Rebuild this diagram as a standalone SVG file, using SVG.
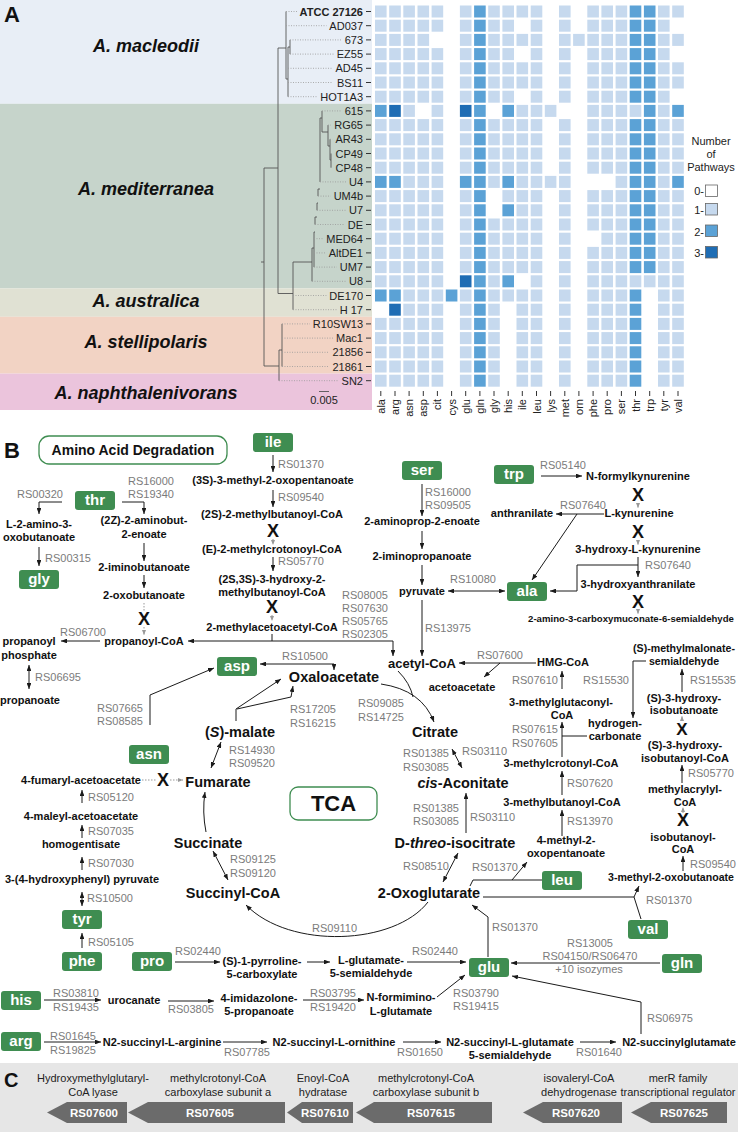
<svg xmlns="http://www.w3.org/2000/svg" width="738" height="1132" viewBox="0 0 738 1132">
<style>
text{font-family:"Liberation Sans",Arial,sans-serif}
.sp{font-size:18px;font-weight:bold;font-style:italic;text-anchor:middle;fill:#111}
.lb{font-size:11px;text-anchor:end;fill:#222}
.c1{fill:#c6d9ee}.c2{fill:#5ba2d6}.c3{fill:#1f6db4}
.tk{stroke:#333;stroke-width:1;fill:none}
.tr{stroke:#555;stroke-width:0.9;fill:none}
.dtl{stroke:#9a9a9a;stroke-width:0.8;stroke-dasharray:1 1.5;fill:none}
.pl{font-size:22px;font-weight:bold;fill:#111}
.cp{font-size:11px;font-weight:bold;text-anchor:middle;fill:#111}
.tc{font-size:14.5px;font-weight:bold;text-anchor:middle;fill:#111}
.rs{font-size:11px;fill:#7b7b7b}
.gb rect{fill:#3f8d51}
.gb text{font-size:15px;font-weight:bold;fill:#fff;text-anchor:middle}
.x{font-size:18px;font-weight:bold;text-anchor:middle;fill:#111}
.ln{fill:none;stroke:#1a1a1a;stroke-width:1}
.e{marker-end:url(#ah)}
.b{marker-start:url(#ah);marker-end:url(#ah)}
.gd{fill:none;stroke:#999;stroke-width:1;stroke-dasharray:1.5 1.5}
.ge{marker-end:url(#gh)}
.gn{font-size:11.5px;font-weight:bold;fill:#fff;text-anchor:middle}
.gt{font-size:11px;fill:#222;text-anchor:middle}
.gene{fill:#6b6b6b}
.box{fill:#fff;stroke:#3f8d51;stroke-width:1.3}
</style>
<defs>
<marker id="ah" viewBox="0 0 10 8" refX="10" refY="4" markerWidth="6" markerHeight="4.8" markerUnits="userSpaceOnUse" orient="auto-start-reverse"><path d="M0,0L10,4L0,8z" fill="#1a1a1a"/></marker>
<marker id="gh" viewBox="0 0 10 8" refX="10" refY="4" markerWidth="5" markerHeight="4" markerUnits="userSpaceOnUse" orient="auto-start-reverse"><path d="M0,0L10,4L0,8z" fill="#999"/></marker>
<g id="pA"><rect x="375" width="11.6" height="12" class="c1"/><rect x="389.2" width="11.6" height="12" class="c1"/><rect x="403.3" width="11.6" height="12" class="c1"/><rect x="417.5" width="11.6" height="12" class="c1"/><rect x="431.6" width="11.6" height="12" class="c1"/><rect x="459.9" width="11.6" height="12" class="c1"/><rect x="474.1" width="11.6" height="12" class="c2"/><rect x="488.2" width="11.6" height="12" class="c1"/><rect x="502.4" width="11.6" height="12" class="c1"/><rect x="516.5" width="11.6" height="12" class="c1"/><rect x="530.7" width="11.6" height="12" class="c1"/><rect x="559" width="11.6" height="12" class="c1"/><rect x="587.3" width="11.6" height="12" class="c1"/><rect x="601.4" width="11.6" height="12" class="c1"/><rect x="615.6" width="11.6" height="12" class="c1"/><rect x="629.7" width="11.6" height="12" class="c2"/><rect x="643.9" width="11.6" height="12" class="c2"/><rect x="658" width="11.6" height="12" class="c1"/><rect x="672.2" width="11.6" height="12" class="c1"/></g>
<g id="pB"><rect x="375" width="11.6" height="12" class="c1"/><rect x="389.2" width="11.6" height="12" class="c1"/><rect x="403.3" width="11.6" height="12" class="c1"/><rect x="417.5" width="11.6" height="12" class="c1"/><rect x="431.6" width="11.6" height="12" class="c1"/><rect x="459.9" width="11.6" height="12" class="c1"/><rect x="474.1" width="11.6" height="12" class="c2"/><rect x="488.2" width="11.6" height="12" class="c1"/><rect x="502.4" width="11.6" height="12" class="c1"/><rect x="530.7" width="11.6" height="12" class="c1"/><rect x="559" width="11.6" height="12" class="c1"/><rect x="587.3" width="11.6" height="12" class="c1"/><rect x="601.4" width="11.6" height="12" class="c1"/><rect x="615.6" width="11.6" height="12" class="c1"/><rect x="629.7" width="11.6" height="12" class="c2"/><rect x="643.9" width="11.6" height="12" class="c2"/><rect x="658" width="11.6" height="12" class="c1"/></g>
<g id="pS"><rect x="375" width="11.6" height="12" class="c1"/><rect x="389.2" width="11.6" height="12" class="c1"/><rect x="403.3" width="11.6" height="12" class="c1"/><rect x="417.5" width="11.6" height="12" class="c1"/><rect x="431.6" width="11.6" height="12" class="c1"/><rect x="459.9" width="11.6" height="12" class="c1"/><rect x="474.1" width="11.6" height="12" class="c2"/><rect x="488.2" width="11.6" height="12" class="c1"/><rect x="516.5" width="11.6" height="12" class="c1"/><rect x="530.7" width="11.6" height="12" class="c1"/><rect x="559" width="11.6" height="12" class="c1"/><rect x="587.3" width="11.6" height="12" class="c1"/><rect x="601.4" width="11.6" height="12" class="c1"/><rect x="615.6" width="11.6" height="12" class="c1"/><rect x="629.7" width="11.6" height="12" class="c2"/><rect x="658" width="11.6" height="12" class="c1"/><rect x="672.2" width="11.6" height="12" class="c1"/></g>
</defs>
<rect width="738" height="1132" fill="#fff"/>

<g id="panelA">
<g id="bands">
<rect x="0" y="0" width="372" height="103.8" fill="#e8eef6"/>
<rect x="0" y="103.8" width="372" height="184.6" fill="#c6d4cb"/>
<rect x="0" y="288.4" width="372" height="28.4" fill="#e0e1d3"/>
<rect x="0" y="316.8" width="372" height="56.8" fill="#f2d3c4"/>
<rect x="0" y="373.6" width="372" height="36.4" fill="#ebc4dc"/>
</g>
<text x="4" y="22" class="pl">A</text>
<g id="species">
<text x="146" y="51.5" class="sp">A. macleodii</text>
<text x="146" y="194.5" class="sp">A. mediterranea</text>
<text x="146" y="306.5" class="sp">A. australica</text>
<text x="146" y="347.5" class="sp">A. stellipolaris</text>
<text x="146" y="398.5" class="sp">A. naphthalenivorans</text>
</g>
<g id="tree">
<path class="tr" d="M261,262H264M264,168V366M264,168H278M278,48V293.5M278,48H286M286,11.5V79M286,79H288M288,47V96.7M288,47H290M290,39.9V54.1M278,293.5H293M293,262V309.7M293,262H312M312,248V281.3M312,248H314M314,232V267.1M314,232H315M315,217V224.5M315,217H317M317,203V210.3M317,203H318M318,189V196.1M318,189H320M320,118V181.9M320,118H322M322,110.9V132M322,132H328M328,125.1V146M328,146H330M330,139.3V160M330,160H331M331,153.5V167.7M264,366H279M279,350V380.7M279,350H282M282,323.9V366.5"/>
<path class="dtl" d="M286,11.5H297M286,25.7H326.5M290,39.9H341.6M290,54.1H333.8M288,68.3H332.6M288,82.5H333M288,96.7H317M322,110.9H341.6M328,125.1H331M330,139.3H332.6M320,181.9H346M318,196.1H330.7M317,210.3H346M315,224.5H344.8M314,238.7H323.4M314,252.9H326M314,267.1H336.8M312,281.3H346M293,295.5H326.4M293,309.7H336.8M282,323.9H310M282,338.1H333M282,352.3H329.4M282,366.5H329.4M279,380.7H338.7"/>
<path class="tr" d="M319,391.5H329"/>
<text x="324" y="404" class="gt">0.005</text>
</g>
<g id="strains">
<text x="363" y="15.5" class="lb" style="font-weight:bold">ATCC 27126</text>
<text x="363" y="29.7" class="lb">AD037</text>
<text x="363" y="43.9" class="lb">673</text>
<text x="363" y="58.1" class="lb">EZ55</text>
<text x="363" y="72.3" class="lb">AD45</text>
<text x="363" y="86.5" class="lb">BS11</text>
<text x="363" y="100.7" class="lb">HOT1A3</text>
<text x="363" y="114.9" class="lb">615</text>
<text x="363" y="129.1" class="lb">RG65</text>
<text x="363" y="143.3" class="lb">AR43</text>
<text x="363" y="157.5" class="lb">CP49</text>
<text x="363" y="171.7" class="lb">CP48</text>
<text x="363" y="185.9" class="lb">U4</text>
<text x="363" y="200.1" class="lb">UM4b</text>
<text x="363" y="214.3" class="lb">U7</text>
<text x="363" y="228.5" class="lb">DE</text>
<text x="363" y="242.7" class="lb">MED64</text>
<text x="363" y="256.9" class="lb">AltDE1</text>
<text x="363" y="271.1" class="lb">UM7</text>
<text x="363" y="285.3" class="lb">U8</text>
<text x="363" y="299.5" class="lb">DE170</text>
<text x="363" y="313.7" class="lb">H 17</text>
<text x="363" y="327.9" class="lb">R10SW13</text>
<text x="363" y="342.1" class="lb">Mac1</text>
<text x="363" y="356.3" class="lb">21856</text>
<text x="363" y="370.5" class="lb">21861</text>
<text x="363" y="384.7" class="lb">SN2</text>
<path class="tk" d="M366,11.5h5M366,25.7h5M366,39.9h5M366,54.1h5M366,68.3h5M366,82.5h5M366,96.7h5M366,110.9h5M366,125.1h5M366,139.3h5M366,153.5h5M366,167.7h5M366,181.9h5M366,196.1h5M366,210.3h5M366,224.5h5M366,238.7h5M366,252.9h5M366,267.1h5M366,281.3h5M366,295.5h5M366,309.7h5M366,323.9h5M366,338.1h5M366,352.3h5M366,366.5h5M366,380.7h5"/>
</g>
<g id="heatmap">
<use href="#pA" y="5.5"/>
<use href="#pB" y="19.7"/>
<g transform="translate(0,33.9)"><rect x="375" width="11.6" height="12" class="c1"/><rect x="389.2" width="11.6" height="12" class="c1"/><rect x="403.3" width="11.6" height="12" class="c1"/><rect x="417.5" width="11.6" height="12" class="c1"/><rect x="459.9" width="11.6" height="12" class="c1"/><rect x="474.1" width="11.6" height="12" class="c2"/><rect x="488.2" width="11.6" height="12" class="c1"/><rect x="502.4" width="11.6" height="12" class="c1"/><rect x="516.5" width="11.6" height="12" class="c1"/><rect x="530.7" width="11.6" height="12" class="c1"/><rect x="559" width="11.6" height="12" class="c1"/><rect x="573.1" width="11.6" height="12" class="c1"/><rect x="587.3" width="11.6" height="12" class="c1"/><rect x="601.4" width="11.6" height="12" class="c1"/><rect x="615.6" width="11.6" height="12" class="c1"/><rect x="629.7" width="11.6" height="12" class="c2"/><rect x="643.9" width="11.6" height="12" class="c2"/><rect x="658" width="11.6" height="12" class="c1"/><rect x="672.2" width="11.6" height="12" class="c1"/></g>
<use href="#pB" y="48.1"/>
<use href="#pA" y="62.3"/>
<use href="#pA" y="76.5"/>
<use href="#pB" y="90.7"/>
<g transform="translate(0,104.9)"><rect x="375" width="11.6" height="12" class="c2"/><rect x="389.2" width="11.6" height="12" class="c3"/><rect x="403.3" width="11.6" height="12" class="c1"/><rect x="431.6" width="11.6" height="12" class="c1"/><rect x="459.9" width="11.6" height="12" class="c3"/><rect x="474.1" width="11.6" height="12" class="c2"/><rect x="502.4" width="11.6" height="12" class="c2"/><rect x="516.5" width="11.6" height="12" class="c1"/><rect x="530.7" width="11.6" height="12" class="c1"/><rect x="544.8" width="11.6" height="12" class="c1"/><rect x="587.3" width="11.6" height="12" class="c1"/><rect x="601.4" width="11.6" height="12" class="c1"/><rect x="615.6" width="11.6" height="12" class="c1"/><rect x="629.7" width="11.6" height="12" class="c1"/><rect x="643.9" width="11.6" height="12" class="c2"/><rect x="658" width="11.6" height="12" class="c1"/><rect x="672.2" width="11.6" height="12" class="c2"/></g>
<use href="#pA" y="119.1"/>
<use href="#pA" y="133.3"/>
<use href="#pA" y="147.5"/>
<use href="#pA" y="161.7"/>
<g transform="translate(0,175.9)"><rect x="375" width="11.6" height="12" class="c2"/><rect x="389.2" width="11.6" height="12" class="c2"/><rect x="403.3" width="11.6" height="12" class="c1"/><rect x="417.5" width="11.6" height="12" class="c1"/><rect x="431.6" width="11.6" height="12" class="c1"/><rect x="459.9" width="11.6" height="12" class="c2"/><rect x="474.1" width="11.6" height="12" class="c2"/><rect x="488.2" width="11.6" height="12" class="c1"/><rect x="502.4" width="11.6" height="12" class="c2"/><rect x="516.5" width="11.6" height="12" class="c1"/><rect x="530.7" width="11.6" height="12" class="c1"/><rect x="544.8" width="11.6" height="12" class="c1"/><rect x="559" width="11.6" height="12" class="c1"/><rect x="615.6" width="11.6" height="12" class="c1"/><rect x="629.7" width="11.6" height="12" class="c2"/><rect x="643.9" width="11.6" height="12" class="c2"/><rect x="658" width="11.6" height="12" class="c1"/><rect x="672.2" width="11.6" height="12" class="c2"/></g>
<g transform="translate(0,190.1)"><rect x="375" width="11.6" height="12" class="c1"/><rect x="389.2" width="11.6" height="12" class="c1"/><rect x="403.3" width="11.6" height="12" class="c1"/><rect x="417.5" width="11.6" height="12" class="c1"/><rect x="431.6" width="11.6" height="12" class="c1"/><rect x="459.9" width="11.6" height="12" class="c1"/><rect x="474.1" width="11.6" height="12" class="c2"/><rect x="502.4" width="11.6" height="12" class="c1"/><rect x="516.5" width="11.6" height="12" class="c1"/><rect x="530.7" width="11.6" height="12" class="c1"/><rect x="559" width="11.6" height="12" class="c1"/><rect x="587.3" width="11.6" height="12" class="c1"/><rect x="601.4" width="11.6" height="12" class="c1"/><rect x="615.6" width="11.6" height="12" class="c1"/><rect x="629.7" width="11.6" height="12" class="c2"/><rect x="643.9" width="11.6" height="12" class="c2"/><rect x="658" width="11.6" height="12" class="c1"/><rect x="672.2" width="11.6" height="12" class="c1"/></g>
<g transform="translate(0,204.3)"><rect x="375" width="11.6" height="12" class="c1"/><rect x="389.2" width="11.6" height="12" class="c1"/><rect x="403.3" width="11.6" height="12" class="c1"/><rect x="417.5" width="11.6" height="12" class="c1"/><rect x="431.6" width="11.6" height="12" class="c1"/><rect x="459.9" width="11.6" height="12" class="c1"/><rect x="474.1" width="11.6" height="12" class="c2"/><rect x="502.4" width="11.6" height="12" class="c2"/><rect x="516.5" width="11.6" height="12" class="c1"/><rect x="530.7" width="11.6" height="12" class="c1"/><rect x="559" width="11.6" height="12" class="c1"/><rect x="587.3" width="11.6" height="12" class="c1"/><rect x="601.4" width="11.6" height="12" class="c1"/><rect x="615.6" width="11.6" height="12" class="c1"/><rect x="629.7" width="11.6" height="12" class="c2"/><rect x="643.9" width="11.6" height="12" class="c2"/><rect x="658" width="11.6" height="12" class="c1"/><rect x="672.2" width="11.6" height="12" class="c1"/></g>
<use href="#pA" y="218.5"/>
<g transform="translate(0,232.7)"><rect x="375" width="11.6" height="12" class="c1"/><rect x="389.2" width="11.6" height="12" class="c1"/><rect x="403.3" width="11.6" height="12" class="c1"/><rect x="417.5" width="11.6" height="12" class="c1"/><rect x="431.6" width="11.6" height="12" class="c1"/><rect x="459.9" width="11.6" height="12" class="c1"/><rect x="474.1" width="11.6" height="12" class="c2"/><rect x="488.2" width="11.6" height="12" class="c1"/><rect x="502.4" width="11.6" height="12" class="c1"/><rect x="516.5" width="11.6" height="12" class="c1"/><rect x="530.7" width="11.6" height="12" class="c1"/><rect x="559" width="11.6" height="12" class="c1"/><rect x="601.4" width="11.6" height="12" class="c1"/><rect x="615.6" width="11.6" height="12" class="c1"/><rect x="629.7" width="11.6" height="12" class="c2"/><rect x="643.9" width="11.6" height="12" class="c2"/><rect x="658" width="11.6" height="12" class="c1"/><rect x="672.2" width="11.6" height="12" class="c1"/></g>
<use href="#pA" y="246.9"/>
<use href="#pA" y="261.1"/>
<g transform="translate(0,275.3)"><rect x="375" width="11.6" height="12" class="c1"/><rect x="389.2" width="11.6" height="12" class="c1"/><rect x="403.3" width="11.6" height="12" class="c1"/><rect x="417.5" width="11.6" height="12" class="c1"/><rect x="431.6" width="11.6" height="12" class="c1"/><rect x="459.9" width="11.6" height="12" class="c3"/><rect x="474.1" width="11.6" height="12" class="c2"/><rect x="488.2" width="11.6" height="12" class="c1"/><rect x="502.4" width="11.6" height="12" class="c2"/><rect x="530.7" width="11.6" height="12" class="c1"/><rect x="559" width="11.6" height="12" class="c1"/><rect x="587.3" width="11.6" height="12" class="c1"/><rect x="601.4" width="11.6" height="12" class="c1"/><rect x="615.6" width="11.6" height="12" class="c1"/><rect x="629.7" width="11.6" height="12" class="c1"/><rect x="643.9" width="11.6" height="12" class="c1"/><rect x="658" width="11.6" height="12" class="c1"/><rect x="672.2" width="11.6" height="12" class="c1"/></g>
<g transform="translate(0,289.5)"><rect x="375" width="11.6" height="12" class="c2"/><rect x="389.2" width="11.6" height="12" class="c2"/><rect x="403.3" width="11.6" height="12" class="c1"/><rect x="417.5" width="11.6" height="12" class="c1"/><rect x="431.6" width="11.6" height="12" class="c1"/><rect x="445.8" width="11.6" height="12" class="c2"/><rect x="459.9" width="11.6" height="12" class="c1"/><rect x="474.1" width="11.6" height="12" class="c2"/><rect x="488.2" width="11.6" height="12" class="c1"/><rect x="502.4" width="11.6" height="12" class="c1"/><rect x="516.5" width="11.6" height="12" class="c1"/><rect x="530.7" width="11.6" height="12" class="c1"/><rect x="559" width="11.6" height="12" class="c1"/><rect x="587.3" width="11.6" height="12" class="c1"/><rect x="601.4" width="11.6" height="12" class="c1"/><rect x="615.6" width="11.6" height="12" class="c1"/><rect x="629.7" width="11.6" height="12" class="c2"/><rect x="658" width="11.6" height="12" class="c1"/><rect x="672.2" width="11.6" height="12" class="c1"/></g>
<g transform="translate(0,303.7)"><rect x="389.2" width="11.6" height="12" class="c3"/><rect x="403.3" width="11.6" height="12" class="c1"/><rect x="417.5" width="11.6" height="12" class="c1"/><rect x="431.6" width="11.6" height="12" class="c1"/><rect x="459.9" width="11.6" height="12" class="c1"/><rect x="474.1" width="11.6" height="12" class="c2"/><rect x="488.2" width="11.6" height="12" class="c1"/><rect x="516.5" width="11.6" height="12" class="c1"/><rect x="530.7" width="11.6" height="12" class="c1"/><rect x="559" width="11.6" height="12" class="c1"/><rect x="587.3" width="11.6" height="12" class="c1"/><rect x="601.4" width="11.6" height="12" class="c1"/><rect x="615.6" width="11.6" height="12" class="c1"/><rect x="629.7" width="11.6" height="12" class="c2"/><rect x="658" width="11.6" height="12" class="c1"/><rect x="672.2" width="11.6" height="12" class="c1"/></g>
<use href="#pS" y="317.9"/>
<use href="#pS" y="332.1"/>
<use href="#pS" y="346.3"/>
<use href="#pS" y="360.5"/>
<use href="#pS" y="374.7"/>
</g>
<g id="aminoacids">
<path class="tk" d="M380.8,391v5M395,391v5M409.1,391v5M423.3,391v5M437.4,391v5M451.6,391v5M465.7,391v5M479.9,391v5M494,391v5M508.2,391v5M522.3,391v5M536.5,391v5M550.6,391v5M564.8,391v5M578.9,391v5M593.1,391v5M607.2,391v5M621.4,391v5M635.5,391v5M649.7,391v5M663.8,391v5M678,391v5"/>
<text class="lb" transform="translate(384.8,399) rotate(-90)">ala</text>
<text class="lb" transform="translate(399,399) rotate(-90)">arg</text>
<text class="lb" transform="translate(413.1,399) rotate(-90)">asn</text>
<text class="lb" transform="translate(427.3,399) rotate(-90)">asp</text>
<text class="lb" transform="translate(441.4,399) rotate(-90)">cit</text>
<text class="lb" transform="translate(455.6,399) rotate(-90)">cys</text>
<text class="lb" transform="translate(469.7,399) rotate(-90)">glu</text>
<text class="lb" transform="translate(483.9,399) rotate(-90)">gln</text>
<text class="lb" transform="translate(498,399) rotate(-90)">gly</text>
<text class="lb" transform="translate(512.2,399) rotate(-90)">his</text>
<text class="lb" transform="translate(526.3,399) rotate(-90)">ile</text>
<text class="lb" transform="translate(540.5,399) rotate(-90)">leu</text>
<text class="lb" transform="translate(554.6,399) rotate(-90)">lys</text>
<text class="lb" transform="translate(568.8,399) rotate(-90)">met</text>
<text class="lb" transform="translate(582.9,399) rotate(-90)">orn</text>
<text class="lb" transform="translate(597.1,399) rotate(-90)">phe</text>
<text class="lb" transform="translate(611.2,399) rotate(-90)">pro</text>
<text class="lb" transform="translate(625.4,399) rotate(-90)">ser</text>
<text class="lb" transform="translate(639.5,399) rotate(-90)">thr</text>
<text class="lb" transform="translate(653.7,399) rotate(-90)">trp</text>
<text class="lb" transform="translate(667.8,399) rotate(-90)">tyr</text>
<text class="lb" transform="translate(682,399) rotate(-90)">val</text>
</g>
<g id="legend">
<text x="711" y="145" class="gt">Number</text>
<text x="711" y="158" class="gt">of</text>
<text x="711" y="171" class="gt">Pathways</text>
<text x="704" y="195" class="lb">0-</text>
<text x="704" y="214" class="lb">1-</text>
<text x="704" y="236" class="lb">2-</text>
<text x="704" y="257" class="lb">3-</text>
<rect x="705.5" y="185" width="12" height="11.5" fill="#fff" stroke="#666" stroke-width="0.8"/>
<rect x="705.5" y="203.5" width="12" height="11.5" class="c1" stroke="#666" stroke-width="0.8"/>
<rect x="705.5" y="225" width="12" height="11.5" class="c2" stroke="#666" stroke-width="0.8"/>
<rect x="705.5" y="246.5" width="12" height="11.5" class="c3" stroke="#666" stroke-width="0.8"/>
</g>
</g>

<g id="panelB">
<text x="4" y="458" class="pl">B</text>
<g id="title-aad"><rect x="39" y="436" width="188" height="28" rx="10" class="box"/><text x="133" y="455" font-size="14" font-weight="bold" text-anchor="middle" fill="#111">Amino Acid Degradation</text></g>
<g id="title-tca"><rect x="290" y="787" width="87" height="33" rx="8" class="box"/><text x="333.5" y="811" font-size="22" font-weight="bold" text-anchor="middle" fill="#111">TCA</text></g>

<g id="connectors">
<path class="ln e" d="M62,502H39V514"/>
<path class="ln e" d="M122,502H144V514"/>
<path class="ln e" d="M39,547V566"/>
<path class="ln e" d="M144,543V561"/>
<path class="ln e" d="M144,575V588"/>
<path class="ln e" d="M100,641H61"/>
<path class="ln b" d="M29,665V689"/>
<path class="ln e" d="M273,455V472"/>
<path class="ln e" d="M273,490V507"/>
<path class="ln e" d="M273,557V571"/>
<path class="ln" d="M272,634V641"/>
<path class="ln e" d="M393,641H188"/>
<path class="ln e" d="M393,641V656"/>
<path class="ln b" d="M260,664H334V670"/>
<path class="ln e" d="M150,725V695L214,668"/>
<path class="ln e" d="M236,721V709L281,679"/>
<path class="ln e" d="M237,709L291,697L293,686"/>
<path class="ln b" d="M221,742L211,768"/>
<path class="ln e" d="M206,832Q202,812 205,792"/>
<path class="ln b" d="M213,851L228,880"/>
<path class="ln e" d="M428,902C395,945 290,950 246,905"/>
<path class="ln e" d="M381,684Q422,690 434,722"/>
<path class="ln" d="M398,671Q410,683 413,697"/>
<path class="ln b" d="M452,749L462,768"/>
<path class="ln e" d="M466,833V793"/>
<path class="ln b" d="M458,853L443,882"/>
<path class="ln" d="M542,880H473L470,886"/>
<path class="ln e" d="M512,880L527,862"/>
<path class="ln" d="M483,897H634"/>
<path class="ln e" d="M641,919L634,897L639,886"/>
<path class="ln e" d="M488,957V917L472,905"/>
<path class="ln e" d="M660,963H511"/>
<path class="ln e" d="M407,962H466"/>
<path class="ln e" d="M437,997L465,975"/>
<path class="ln e" d="M641,1034V1002L512,976"/>
<path class="ln e" d="M44,1042H101"/>
<path class="ln e" d="M223,1042H267"/>
<path class="ln e" d="M403,1042H441"/>
<path class="ln e" d="M580,1042H616"/>
<path class="ln e" d="M44,1000H101"/>
<path class="ln e" d="M168,1001H214"/>
<path class="ln e" d="M303,1000H364"/>
<path class="ln e" d="M175,962H220"/>
<path class="ln e" d="M307,962H330"/>
<path class="ln e" d="M82,803V790"/>
<path class="ln e" d="M82,838V825"/>
<path class="ln e" d="M82,870V857"/>
<path class="ln b" d="M82,892V906"/>
<path class="ln e" d="M82,948V933"/>
<path class="ln e" d="M422,484V516"/>
<path class="ln e" d="M422,531V549"/>
<path class="ln e" d="M422,565V585"/>
<path class="ln e" d="M422,600V656"/>
<path class="ln b" d="M448,591H505"/>
<path class="ln e" d="M541,476H582"/>
<path class="ln e" d="M604,514H556"/>
<path class="ln e" d="M577,514L532,580"/>
<path class="ln e" d="M638,557V577"/>
<path class="ln e" d="M638,565H577V591H550"/>
<path class="ln e" d="M536,663H459"/>
<path class="ln e" d="M500,663L484,677"/>
<path class="ln e" d="M562,689V671"/>
<path class="ln e" d="M646,661H633V718"/>
<path class="ln" d="M587,736H562"/>
<path class="ln e" d="M562,757V722"/>
<path class="ln e" d="M562,795V771"/>
<path class="ln e" d="M562,836V810"/>
<path class="ln e" d="M682,692V669"/>
<path class="ln e" d="M682,783V765"/>
<path class="ln e" d="M683,871V856"/>
<path class="gd ge" d="M273,539V545"/>
<path class="gd ge" d="M272,615V621"/>
<path class="gd" d="M144,603V611"/>
<path class="gd ge" d="M144,627V635"/>
<path class="gd" d="M142,780H156"/>
<path class="gd ge" d="M170,780H183"/>
<path class="gd ge" d="M638,503V508"/>
<path class="gd ge" d="M638,540V545"/>
<path class="gd ge" d="M638,609V614"/>
<path class="gd ge" d="M682,721V716"/>
<path class="gd ge" d="M683,813V807"/>
</g>

<g id="blocks">
<text x="273" y="537" class="x">X</text>
<text x="272" y="613" class="x">X</text>
<text x="144" y="625" class="x">X</text>
<text x="163" y="786" class="x">X</text>
<text x="638" y="501" class="x">X</text>
<text x="638" y="538" class="x">X</text>
<text x="638" y="608" class="x">X</text>
<text x="682" y="734.5" class="x" style="font-size:17px">X</text>
<text x="683" y="826" class="x">X</text>
</g>

<g id="aa-nodes" class="gb">
<g id="n-thr"><rect x="75" y="491" width="40" height="19" rx="3"/><text x="95" y="505">thr</text></g>
<g id="n-ile"><rect x="253" y="433" width="40" height="19" rx="3"/><text x="273" y="447">ile</text></g>
<g id="n-ser"><rect x="402" y="461" width="40" height="19" rx="3"/><text x="422" y="475">ser</text></g>
<g id="n-trp"><rect x="494" y="465" width="40" height="19" rx="3"/><text x="514" y="479">trp</text></g>
<g id="n-gly"><rect x="19" y="570" width="40" height="19" rx="3"/><text x="39" y="584">gly</text></g>
<g id="n-ala"><rect x="507" y="582" width="40" height="19" rx="3"/><text x="527" y="596">ala</text></g>
<g id="n-asp"><rect x="217" y="657" width="40" height="19" rx="3"/><text x="237" y="671">asp</text></g>
<g id="n-asn"><rect x="129" y="745" width="40" height="19" rx="3"/><text x="149" y="759">asn</text></g>
<g id="n-leu"><rect x="542" y="871" width="40" height="19" rx="3"/><text x="562" y="885">leu</text></g>
<g id="n-val"><rect x="628" y="920" width="40" height="19" rx="3"/><text x="648" y="934">val</text></g>
<g id="n-tyr"><rect x="62" y="910" width="40" height="19" rx="3"/><text x="82" y="924">tyr</text></g>
<g id="n-phe"><rect x="62" y="952" width="40" height="19" rx="3"/><text x="82" y="966">phe</text></g>
<g id="n-pro"><rect x="132" y="952" width="40" height="19" rx="3"/><text x="152" y="966">pro</text></g>
<g id="n-glu"><rect x="469" y="958" width="40" height="19" rx="3"/><text x="489" y="972">glu</text></g>
<g id="n-gln"><rect x="662" y="954" width="40" height="19" rx="3"/><text x="682" y="968">gln</text></g>
<g id="n-his"><rect x="1" y="991" width="40" height="19" rx="3"/><text x="21" y="1005">his</text></g>
<g id="n-arg"><rect x="1" y="1032" width="40" height="19" rx="3"/><text x="21" y="1046">arg</text></g>
</g>

<g id="compounds">
<g id="c1"><text x="39" y="528" class="cp">L-2-amino-3-</text><text x="39" y="541" class="cp">oxobutanoate</text></g>
<g id="c2"><text x="144" y="524" class="cp">(2Z)-2-aminobut-</text><text x="144" y="538" class="cp">2-enoate</text></g>
<g id="c3"><text x="144" y="571" class="cp">2-iminobutanoate</text></g>
<g id="c4"><text x="144" y="599" class="cp">2-oxobutanoate</text></g>
<g id="c5"><text x="144" y="645" class="cp">propanoyl-CoA</text></g>
<g id="c6"><text x="29" y="645" class="cp">propanoyl</text><text x="29" y="659" class="cp">phosphate</text></g>
<g id="c7"><text x="30" y="704" class="cp">propanoate</text></g>
<g id="c8"><text x="273" y="484" class="cp">(3S)-3-methyl-2-oxopentanoate</text></g>
<g id="c9"><text x="272" y="518" class="cp">(2S)-2-methylbutanoyl-CoA</text></g>
<g id="c10"><text x="272" y="553" class="cp">(E)-2-methylcrotonoyl-CoA</text></g>
<g id="c11"><text x="272" y="583" class="cp">(2S,3S)-3-hydroxy-2-</text><text x="272" y="596" class="cp">methylbutanoyl-CoA</text></g>
<g id="c12"><text x="272" y="631" class="cp">2-methylacetoacetyl-CoA</text></g>
<g id="c13"><text x="422" y="525" class="cp">2-aminoprop-2-enoate</text></g>
<g id="c14"><text x="422" y="560" class="cp">2-iminopropanoate</text></g>
<g id="c15"><text x="422" y="595" class="cp">pyruvate</text></g>
<g id="c16"><text x="422" y="668" class="cp" style="font-size:13px">acetyl-CoA</text></g>
<g id="c17"><text x="462" y="691" class="cp">acetoacetate</text></g>
<g id="c18"><text x="638" y="480" class="cp">N-formylkynurenine</text></g>
<g id="c19"><text x="522" y="517" class="cp">anthranilate</text></g>
<g id="c20"><text x="639" y="517" class="cp">L-kynurenine</text></g>
<g id="c21"><text x="638" y="553" class="cp">3-hydroxy-L-kynurenine</text></g>
<g id="c22"><text x="638" y="588" class="cp">3-hydroxyanthranilate</text></g>
<g id="c23"><text x="631" y="622" class="cp" style="font-size:9.6px">2-amino-3-carboxymuconate-6-semialdehyde</text></g>
<g id="c24"><text x="563" y="666" class="cp">HMG-CoA</text></g>
<g id="c25"><text x="684" y="652" class="cp" style="font-size:10.6px">(S)-methylmalonate-</text><text x="684" y="665" class="cp" style="font-size:10.6px">semialdehyde</text></g>
<g id="c26"><text x="561" y="706" class="cp">3-methylglutaconyl-</text><text x="562" y="719" class="cp">CoA</text></g>
<g id="c27"><text x="615" y="727" class="cp">hydrogen-</text><text x="615" y="740" class="cp">carbonate</text></g>
<g id="c28"><text x="561" y="767" class="cp">3-methylcrotonyl-CoA</text></g>
<g id="c29"><text x="562" y="806" class="cp">3-methylbutanoyl-CoA</text></g>
<g id="c30"><text x="566" y="844" class="cp">4-methyl-2-</text><text x="566" y="857" class="cp">oxopentanoate</text></g>
<g id="c31"><text x="684" y="702" class="cp">(S)-3-hydroxy-</text><text x="684" y="714" class="cp">isobutanoate</text></g>
<g id="c32"><text x="685" y="749" class="cp">(S)-3-hydroxy-</text><text x="685" y="762" class="cp">isobutanoyl-CoA</text></g>
<g id="c33"><text x="685" y="793" class="cp">methylacrylyl-</text><text x="685" y="806" class="cp">CoA</text></g>
<g id="c34"><text x="683" y="841" class="cp">isobutanoyl-</text><text x="683" y="853" class="cp">CoA</text></g>
<g id="c35"><text x="671" y="881" class="cp" style="font-size:10.6px">3-methyl-2-oxobutanoate</text></g>
<g id="c36"><text x="81" y="784" class="cp">4-fumaryl-acetoacetate</text></g>
<g id="c37"><text x="81" y="820" class="cp">4-maleyl-acetoacetate</text></g>
<g id="c38"><text x="81" y="848" class="cp">homogentisate</text></g>
<g id="c39"><text x="82" y="883" class="cp">3-(4-hydroxyphenyl) pyruvate</text></g>
<g id="c40"><text x="262" y="965" class="cp">(S)-1-pyrroline-</text><text x="262" y="978" class="cp">5-carboxylate</text></g>
<g id="c41"><text x="371" y="964" class="cp">L-glutamate-</text><text x="371" y="977" class="cp">5-semialdehyde</text></g>
<g id="c42"><text x="134" y="1004" class="cp">urocanate</text></g>
<g id="c43"><text x="259" y="1002" class="cp">4-imidazolone-</text><text x="259" y="1015" class="cp">5-propanoate</text></g>
<g id="c44"><text x="401" y="1001" class="cp">N-formimino-</text><text x="401" y="1015" class="cp">L-glutamate</text></g>
<g id="c45"><text x="162" y="1046" class="cp">N2-succinyl-L-arginine</text></g>
<g id="c46"><text x="334" y="1046" class="cp">N2-succinyl-L-ornithine</text></g>
<g id="c47"><text x="510" y="1046" class="cp">N2-succinyl-L-glutamate</text><text x="510" y="1059" class="cp">5-semialdehyde</text></g>
<g id="c48"><text x="679" y="1046" class="cp">N2-succinylglutamate</text></g>
</g>

<g id="tca-nodes">
<g id="t-oaa"><text x="334" y="682" class="tc">Oxaloacetate</text></g>
<g id="t-mal"><text x="240" y="737" class="tc">(<tspan font-style="italic">S</tspan>)-malate</text></g>
<g id="t-fum"><text x="218" y="787" class="tc">Fumarate</text></g>
<g id="t-suc"><text x="208" y="848" class="tc">Succinate</text></g>
<g id="t-scoa"><text x="233" y="898" class="tc">Succinyl-CoA</text></g>
<g id="t-cit"><text x="435" y="737" class="tc">Citrate</text></g>
<g id="t-aco"><text x="463" y="788" class="tc"><tspan font-style="italic">cis</tspan>-Aconitate</text></g>
<g id="t-icit"><text x="455" y="848" class="tc">D-<tspan font-style="italic">threo</tspan>-isocitrate</text></g>
<g id="t-akg"><text x="429" y="898" class="tc">2-Oxoglutarate</text></g>
</g>

<g id="enzymes">
<text x="17" y="498" class="rs">RS00320</text>
<text x="128" y="485" class="rs">RS16000</text><text x="128" y="498" class="rs">RS19340</text>
<text x="45" y="562" class="rs">RS00315</text>
<text x="278" y="468" class="rs">RS01370</text>
<text x="278" y="501" class="rs">RS09540</text>
<text x="278" y="565" class="rs">RS05770</text>
<text x="342" y="599" class="rs">RS08005</text><text x="342" y="612" class="rs">RS07630</text><text x="342" y="625" class="rs">RS05765</text><text x="342" y="638" class="rs">RS02305</text>
<text x="60" y="636" class="rs">RS06700</text>
<text x="35" y="681" class="rs">RS06695</text>
<text x="97" y="712" class="rs">RS07665</text><text x="97" y="725" class="rs">RS08585</text>
<text x="282" y="660" class="rs">RS10500</text>
<text x="290" y="713" class="rs">RS17205</text><text x="290" y="727" class="rs">RS16215</text>
<text x="229" y="754" class="rs">RS14930</text><text x="229" y="767" class="rs">RS09520</text>
<text x="88" y="801" class="rs">RS05120</text>
<text x="88" y="835" class="rs">RS07035</text>
<text x="88" y="867" class="rs">RS07030</text>
<text x="87" y="902" class="rs">RS10500</text>
<text x="88" y="946" class="rs">RS05105</text>
<text x="230" y="863" class="rs">RS09125</text><text x="230" y="877" class="rs">RS09120</text>
<text x="312" y="932" class="rs">RS09110</text>
<text x="425" y="496" class="rs">RS16000</text><text x="425" y="509" class="rs">RS09505</text>
<text x="450" y="583" class="rs">RS10080</text>
<text x="425" y="632" class="rs">RS13975</text>
<text x="358" y="707" class="rs">RS09085</text><text x="358" y="721" class="rs">RS14725</text>
<text x="403" y="757" class="rs">RS01385</text><text x="403" y="771" class="rs">RS03085</text>
<text x="462" y="755" class="rs">RS03110</text>
<text x="413" y="812" class="rs">RS01385</text><text x="413" y="825" class="rs">RS03085</text>
<text x="470" y="821" class="rs">RS03110</text>
<text x="403" y="870" class="rs">RS08510</text>
<text x="472" y="871" class="rs">RS01370</text>
<text x="492" y="931" class="rs">RS01370</text>
<text x="412" y="955" class="rs">RS02440</text>
<text x="590" y="947" class="rs" style="text-anchor:middle">RS13005</text>
<text x="590" y="960" class="rs" style="text-anchor:middle">RS04150/RS06470</text>
<text x="589" y="973" class="rs" style="text-anchor:middle">+10 isozymes</text>
<text x="453" y="997" class="rs">RS03790</text><text x="453" y="1010" class="rs">RS19415</text>
<text x="647" y="1022" class="rs">RS06975</text>
<text x="397" y="1056" class="rs">RS01650</text>
<text x="576" y="1056" class="rs">RS01640</text>
<text x="224" y="1056" class="rs">RS07785</text>
<text x="50" y="1040" class="rs">RS01645</text><text x="50" y="1054" class="rs">RS19825</text>
<text x="53" y="997" class="rs">RS03810</text><text x="53" y="1011" class="rs">RS19435</text>
<text x="168" y="1013" class="rs">RS03805</text>
<text x="310" y="997" class="rs">RS03795</text><text x="310" y="1011" class="rs">RS19420</text>
<text x="175" y="955" class="rs">RS02440</text>
<text x="646" y="904" class="rs">RS01370</text>
<text x="690" y="868" class="rs">RS09540</text>
<text x="688" y="777" class="rs">RS05770</text>
<text x="690" y="684" class="rs">RS15535</text>
<text x="583" y="684" class="rs">RS15530</text>
<text x="512" y="684" class="rs">RS07610</text>
<text x="512" y="733" class="rs">RS07615</text><text x="512" y="747" class="rs">RS07605</text>
<text x="567" y="787" class="rs">RS07620</text>
<text x="567" y="825" class="rs">RS13970</text>
<text x="477" y="659" class="rs">RS07600</text>
<text x="540" y="469" class="rs">RS05140</text>
<text x="560" y="509" class="rs">RS07640</text>
<text x="645" y="569" class="rs">RS07640</text>
</g>
</g>

<g id="panelC">
<rect x="0" y="1063" width="738" height="69" fill="#e6e6e6"/>
<text x="4" y="1087" font-size="20" font-weight="bold" fill="#111">C</text>
<g id="g-RS07600"><text x="93" y="1082" class="gt">Hydroxymethylglutaryl-</text><text x="93" y="1096" class="gt">CoA lyase</text><polygon class="gene" points="47,1112.5 67,1102 127,1102 127,1123 67,1123"/><text x="94" y="1116.5" class="gn">RS07600</text></g>
<g id="g-RS07605"><text x="218" y="1082" class="gt">methylcrotonyl-CoA</text><text x="218" y="1096" class="gt">carboxylase subunit a</text><polygon class="gene" points="128,1112.5 148,1102 285,1102 285,1123 148,1123"/><text x="210" y="1116.5" class="gn">RS07605</text></g>
<g id="g-RS07610"><text x="323" y="1082" class="gt">Enoyl-CoA</text><text x="323" y="1096" class="gt">hydratase</text><polygon class="gene" points="287,1112.5 302,1102 353,1102 353,1123 302,1123"/><text x="325" y="1116.5" class="gn">RS07610</text></g>
<g id="g-RS07615"><text x="426" y="1082" class="gt">methylcrotonyl-CoA</text><text x="426" y="1096" class="gt">carboxylase subunit b</text><polygon class="gene" points="356,1112.5 374,1102 492,1102 492,1123 374,1123"/><text x="431" y="1116.5" class="gn">RS07615</text></g>
<g id="g-RS07620"><text x="579" y="1082" class="gt">isovaleryl-CoA</text><text x="579" y="1096" class="gt">dehydrogenase</text><polygon class="gene" points="523,1112.5 543,1102 622,1102 622,1123 543,1123"/><text x="576" y="1116.5" class="gn">RS07620</text></g>
<g id="g-RS07625"><text x="678" y="1082" class="gt">merR family</text><text x="678" y="1096" class="gt">transcriptional regulator</text><polygon class="gene" points="631,1112.5 651,1102 727,1102 727,1123 651,1123"/><text x="684" y="1116.5" class="gn">RS07625</text></g>
</g>
</svg>
